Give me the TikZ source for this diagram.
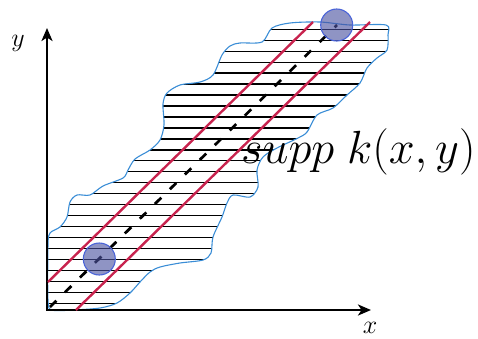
\documentclass[tikz,border=0pt]{standalone}
\usepackage{fix-cm}
\usetikzlibrary{arrows.meta}
\definecolor{blobblue}{RGB}{58,141,214}
\definecolor{redline}{RGB}{200,35,78}
\definecolor{discfill}{RGB}{75,82,160}
\definecolor{discedge}{RGB}{74,100,216}
\tikzset{
  axisline/.style={line width=2.4pt,{Stealth[length=13pt,width=11pt,inset=3.5pt]}-{Stealth[length=13pt,width=11pt,inset=3.5pt]}},
  hatchline/.style={line width=1.3pt,black},
  blobline/.style={line width=1.1pt,blobblue},
  redstrip/.style={line width=2.4pt,redline},
  centerline/.style={line width=2.7pt,black,dash pattern=on 9pt off 12pt},
  disc/.style={circle,inner sep=0pt,minimum size=32pt,fill=discfill,fill opacity=0.62,draw=discedge,draw opacity=1,line width=1.1pt},
  axislabel/.style={font=\fontsize{26}{30}\selectfont,inner sep=0pt},
  supplabel/.style={font=\fontsize{46.5}{54}\selectfont,inner sep=0pt,anchor=base west}
}
\begin{document}
\begin{tikzpicture}[x=1pt,y=-1pt]
\useasboundingbox (0,0) rectangle (478,338);
\def\blobpath{plot[smooth cycle,tension=0.5] coordinates {
 (48,300) (48,245) (50,233) (60,227) (67,217) (70,202) (77,195) (90,195)
 (103,186) (123,178) (128,170) (135,159) (150,150) (160,140) (164,125) (163,104)
 (167,93) (180,85) (200,82) (213,75) (222,55) (230,46) (240,43) (262,42)
 (272,28) (290,23) (320,22) (350,25) (386,25) (388,35) (387,50) (377,58)
 (367,68) (360,83) (347,95) (333,108) (317,115) (307,132) (298,138) (277,148)
 (263,157) (257,170) (258,187) (250,197) (233,195) (227,203) (222,217) (213,237)
 (211,253) (203,260) (180,263) (160,267) (150,272) (140,282) (130,293) (117,303)
 (100,308) (73,310) (52,310)}}
% hatching
\begin{scope}
  \clip \blobpath;
  \foreach \i in {0,...,25} {
    \draw[hatchline] (40,{29.3+10.96*\i}) -- (400,{29.3+10.96*\i});
  }
\end{scope}
\draw[blobline] \blobpath;
% axes
\coordinate (O) at (47,310);
\coordinate (ytip) at (47,28);
\coordinate (xtip) at (371,310);
\draw[axisline] (ytip) -- (O) -- (xtip);
\node[axislabel] (ylab) at (18,43) {$y$};
\node[axislabel] (xlab) at (370,328) {$x$};
% strip lines
\coordinate (r1a) at (48,282);
\coordinate (r1b) at (313,22);
\coordinate (r2a) at (76,310);
\coordinate (r2b) at (370,22);
\draw[redstrip] (r1a) -- (r1b);
\draw[redstrip] (r2a) -- (r2b);
\coordinate (da) at (50,307);
\coordinate (db) at (337,25);
\draw[centerline] (da) -- (db);
% discs
\node[disc] (c1) at (99.3,259) {};
\node[disc] (c2) at (336.7,25) {};
% label
\node[supplabel] (supp) at (241,163) {$supp\;k(x,y)$};
\end{tikzpicture}
\end{document}
